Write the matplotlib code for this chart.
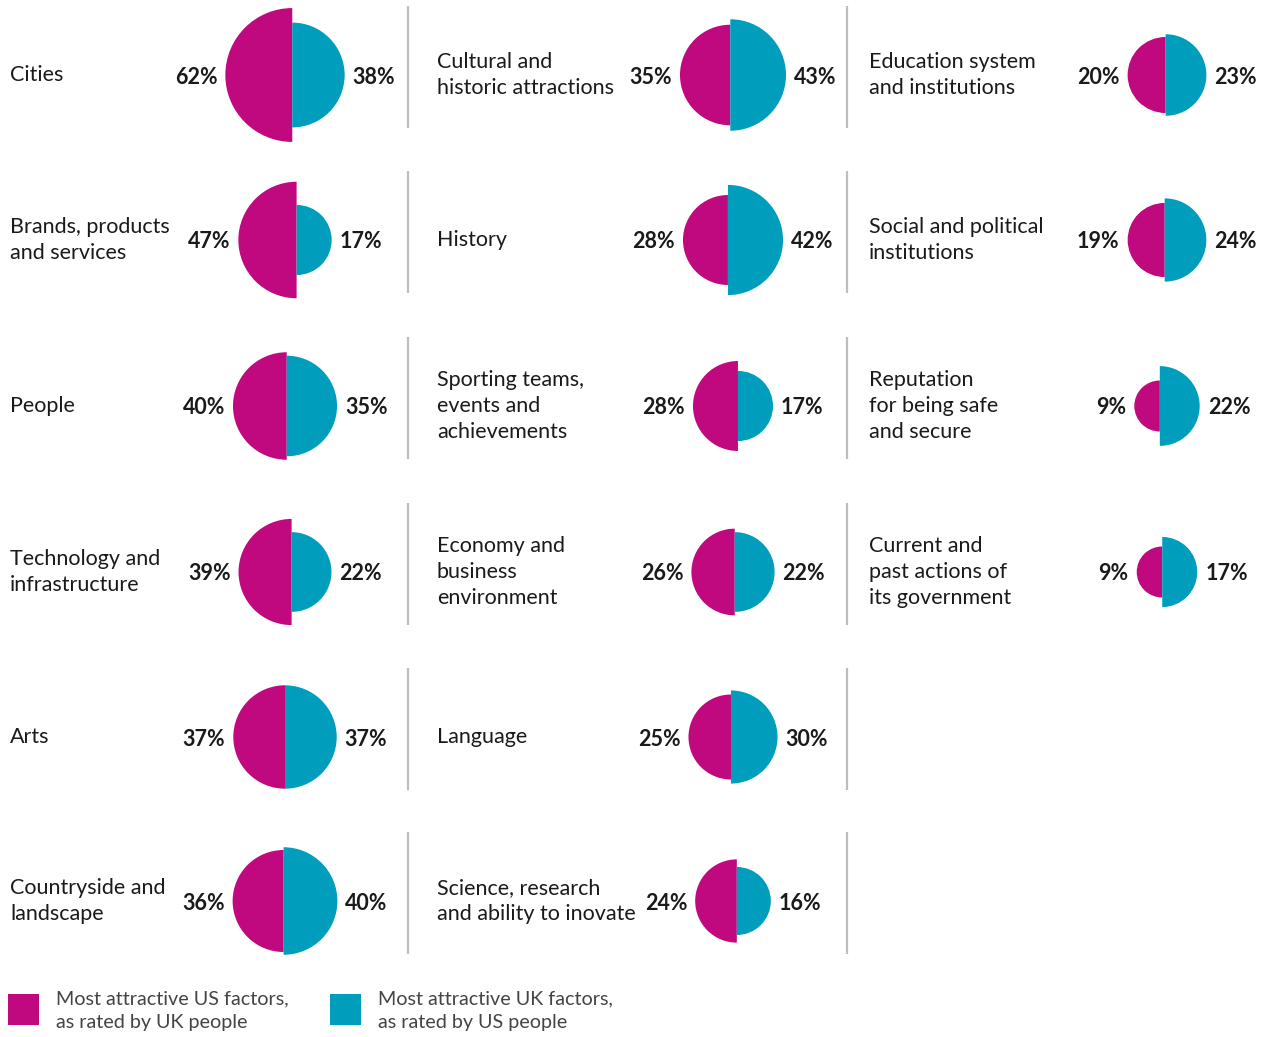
import matplotlib
matplotlib.use("Agg")
import matplotlib.pyplot as plt
from matplotlib.patches import Wedge, Rectangle
import numpy as np

plt.rcParams['font.family'] = ['Lato', 'DejaVu Sans']

# Factor names per column, US score (rated by UK people) and UK score (rated by US people)
col1_labels = ["Cities", "Brands, products\nand services", "People",
               "Technology and\ninfrastructure", "Arts", "Countryside and\nlandscape"]
col1_us = [62, 47, 40, 39, 37, 36]
col1_uk = [38, 17, 35, 22, 37, 40]

col2_labels = ["Cultural and\nhistoric attractions", "History",
               "Sporting teams,\nevents and\nachievements",
               "Economy and\nbusiness\nenvironment", "Language",
               "Science, research\nand ability to inovate"]
col2_us = [35, 28, 28, 26, 25, 24]
col2_uk = [43, 42, 17, 22, 30, 16]

col3_labels = ["Education system\nand institutions", "Social and political\ninstitutions",
               "Reputation\nfor being safe\nand secure",
               "Current and\npast actions of\nits government"]
col3_us = [20, 19, 9, 9]
col3_uk = [23, 24, 22, 17]

legend_labels = ["Most attractive US factors,\nas rated by UK people",
                 "Most attractive UK factors,\nas rated by US people"]

US_COLOR = "#C0097E"
UK_COLOR = "#009DBD"
TEXT = "#1a1a1a"

W, H = 1274, 1037
fig = plt.figure(figsize=(W / 100, H / 100), dpi=100)
ax = fig.add_axes([0, 0, 1, 1])
ax.set_xlim(0, W)
ax.set_ylim(H, 0)
ax.axis("off")

row_y = [75, 240, 406, 572, 737, 901]
scale = 8.5          # radius per sqrt(percentage point), area-proportional
gap = 8

columns = [
    (col1_labels, col1_us, col1_uk, 10, 285),
    (col2_labels, col2_us, col2_uk, 437, 733),
    (col3_labels, col3_us, col3_uk, 869, 1167),
]

for labels, us, uk, label_x, mid in columns:
    for i, (lab, a, b) in enumerate(zip(labels, us, uk)):
        y = row_y[i]
        ra = scale * np.sqrt(a)
        rb = scale * np.sqrt(b)
        cx = mid + (ra - rb) / 2
        ax.add_patch(Wedge((cx, y), ra, 90, 270, facecolor=US_COLOR, edgecolor="none"))
        ax.add_patch(Wedge((cx, y), rb, -90, 90, facecolor=UK_COLOR, edgecolor="none"))
        ax.text(cx - ra - gap, y, f"{a}%", ha="right", va="center_baseline",
                fontsize=15.5, fontweight="bold", color=TEXT)
        ax.text(cx + rb + gap, y, f"{b}%", ha="left", va="center_baseline",
                fontsize=15.5, fontweight="bold", color=TEXT)
        ax.text(label_x, y, lab, ha="left", va="center", fontsize=15.5,
                color=TEXT, linespacing=1.38)

# vertical separators between columns
for sx, n in [(408, 6), (847, 6)]:
    for i in range(n):
        yc = row_y[i] - 8
        ax.plot([sx, sx], [yc - 61, yc + 61], color="#bdbdbd", lw=1.6,
                solid_capstyle="butt")

# legend
for (lx, col, txt) in [(8, US_COLOR, legend_labels[0]), (330, UK_COLOR, legend_labels[1])]:
    ax.add_patch(Rectangle((lx, 994), 31, 31, facecolor=col, edgecolor="none"))
    ax.text(lx + 48, 1011, txt, ha="left", va="center", fontsize=14.2,
            color="#444444", linespacing=1.45)

fig.savefig("out.png", dpi=100)
